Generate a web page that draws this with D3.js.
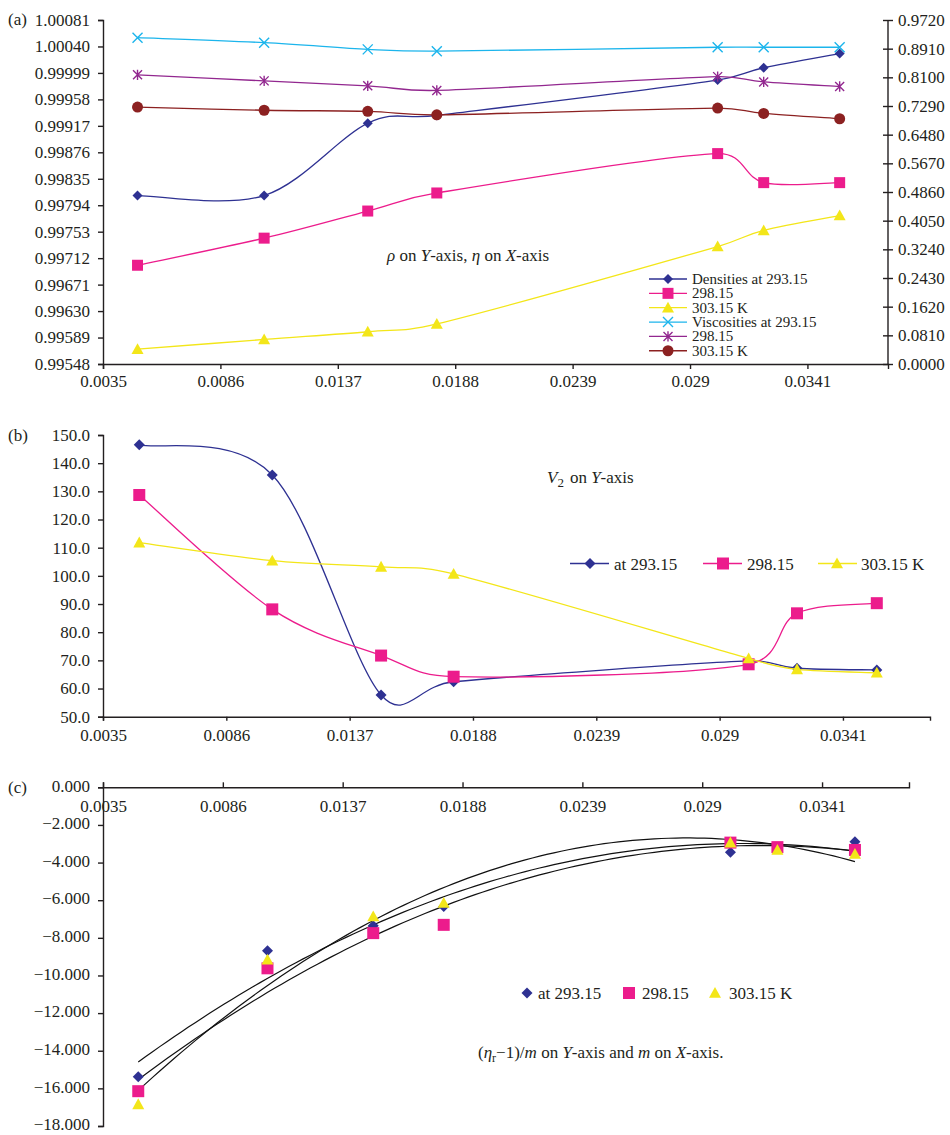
<!DOCTYPE html>
<html><head><meta charset="utf-8">
<script src="https://cdn.jsdelivr.net/npm/d3@7"></script>
<style>
body{margin:0;background:#fff}
text{font-family:"Liberation Serif","Times New Roman",serif;fill:#231f20}
</style>
</head><body><svg id="chart" width="950" height="1135"></svg>
<script>
// ---------- data ----------
const molality = [0.0050, 0.0105, 0.0150, 0.0180, 0.0302, 0.0322, 0.0355];
const xTickValues = [0.0035, 0.0086, 0.0137, 0.0188, 0.0239, 0.0290, 0.0341];
const xTickLabels = ["0.0035", "0.0086", "0.0137", "0.0188", "0.0239", "0.029", "0.0341"];

const densityTicks = [0.99548, 0.99589, 0.99630, 0.99671, 0.99712, 0.99753, 0.99794, 0.99835, 0.99876, 0.99917, 0.99958, 0.99999, 1.00040, 1.00081];
const viscosityTicks = [0.0000, 0.0810, 0.1620, 0.2430, 0.3240, 0.4050, 0.4860, 0.5670, 0.6480, 0.7290, 0.8100, 0.8910, 0.9720];
const density293 = [0.99809, 0.99809, 0.99921, 0.99933, 0.99988, 1.00007, 1.00029];
const density298 = [0.99701, 0.99743, 0.99785, 0.99813, 0.99874, 0.99829, 0.99829];
const density303 = [0.99571, 0.99586, 0.99598, 0.99610, 0.99730, 0.99755, 0.99778];
const viscosity293 = [0.922, 0.908, 0.889, 0.884, 0.895, 0.895, 0.895];
const viscosity298 = [0.817, 0.800, 0.786, 0.773, 0.812, 0.797, 0.784];
const viscosity303 = [0.726, 0.717, 0.714, 0.704, 0.723, 0.708, 0.693];

const v2Ticks = [50, 60, 70, 80, 90, 100, 110, 120, 130, 140, 150];
const v2at293 = [146.5, 135.8, 57.7, 62.4, 69.8, 67.2, 66.6];
const v2at298 = [128.7, 88.1, 71.7, 64.2, 68.6, 86.7, 90.3];
const v2at303 = [111.8, 105.4, 103.2, 100.7, 70.7, 66.8, 65.6];

const etaTicks = [0, -2, -4, -6, -8, -10, -12, -14, -16, -18];
const eta293 = [-15.38, -8.68, -7.36, -6.33, -3.45, -3.20, -2.89];
const eta298 = [-16.15, -9.62, -7.75, -7.31, -2.94, -3.18, -3.33];
const eta303 = [-16.85, -9.16, -6.86, -6.15, -2.94, -3.33, -3.54];

const legendA = ["Densities at 293.15", "298.15", "303.15 K", "Viscosities at 293.15", "298.15", "303.15 K"];
const legendB = ["at 293.15", "298.15", "303.15 K"];

// ---------- styles ----------
const C = {navy:"#2e3192", pink:"#ec1c8c", yellow:"#f3e619", cyan:"#1cb5ec", purple:"#92278f", brown:"#8c2121"};
const FS = 17;
const svg = d3.select("#chart");

function markerPath(type, s){
  const h = s/2;
  switch(type){
    case "diamond": return `M0,${-h}L${h},0L0,${h}L${-h},0Z`;
    case "square": return `M${-h},${-h}H${h}V${h}H${-h}Z`;
    case "triangle": return `M0,${-h}L${h},${h*0.8}L${-h},${h*0.8}Z`;
    case "circle": return d3.symbol(d3.symbolCircle, Math.PI*h*h)();
    case "x": return `M${-h},${-h}L${h},${h}M${-h},${h}L${h},${-h}`;
    case "star": return `M${-h},${-h}L${h},${h}M${-h},${h}L${h},${-h}M0,${-h*1.15}V${h*1.15}`;
  }
}
function drawMarker(g, type, x, y, color, s){
  const stroke = (type==="x"||type==="star");
  g.append("path").attr("d", markerPath(type, s)).attr("transform",`translate(${x},${y})`)
    .attr("fill", stroke ? "none" : color).attr("stroke", stroke ? color : "none").attr("stroke-width", stroke ? 1.4 : 0);
}
function styleAxis(g){
  g.attr("font-size", null).attr("font-family", null);
  g.selectAll("text").attr("font-size", FS);
  g.selectAll("path.domain, line").attr("stroke", "#231f20").attr("stroke-width", 1.4);
}
// spreadsheet-style smoothed line: Bezier handles of 1/6 of the neighbour chord, capped at half the segment
function smoothPath(pts){
  const p = d3.path();
  p.moveTo(pts[0][0], pts[0][1]);
  for(let i=0;i<pts.length-1;i++){
    const P0 = pts[Math.max(i-1,0)], P1 = pts[i], P2 = pts[i+1], P3 = pts[Math.min(i+2,pts.length-1)];
    const d12 = Math.hypot(P2[0]-P1[0], P2[1]-P1[1]);
    const handle = (a,b)=>{ let hx=(b[0]-a[0])/6, hy=(b[1]-a[1])/6; const L=Math.hypot(hx,hy); if(L>d12/2){ hx*=d12/2/L; hy*=d12/2/L; } return [hx,hy]; };
    const h1 = handle(P0,P2), h2 = handle(P1,P3);
    p.bezierCurveTo(P1[0]+h1[0], P1[1]+h1[1], P2[0]-h2[0], P2[1]-h2[1], P2[0], P2[1]);
  }
  return p.toString();
}
function series(g, x, y, vals, color, type, size, curve){
  const pts = molality.map((m,i)=>[x(m), y(vals[i])]);
  if(curve){
    g.append("path").attr("d", smoothPath(pts))
      .attr("fill","none").attr("stroke",color).attr("stroke-width",1.3);
  }
  pts.forEach(p=>drawMarker(g, type, p[0], p[1], color, size));
}

// ---------- panel (a) ----------
{
  const x = d3.scaleLinear().domain([0.0035, 0.0376]).range([103, 888]);
  const yL = d3.scaleLinear().domain([0.99548, 1.00081]).range([364, 20]);
  const yR = d3.scaleLinear().domain([0, 0.972]).range([364, 20]);
  const g = svg.append("g");
  g.append("g").attr("transform","translate(0,364)")
    .call(d3.axisBottom(x).tickValues(xTickValues).tickFormat((d,i)=>xTickLabels[i]).tickSize(5).tickPadding(6)).call(styleAxis);
  g.append("g").attr("transform","translate(103,0)")
    .call(d3.axisLeft(yL).tickValues(densityTicks).tickFormat(d3.format(".5f")).tickSize(5).tickPadding(8)).call(styleAxis);
  const r = g.append("g").attr("transform","translate(888,0)")
    .call(d3.axisRight(yR).tickValues(viscosityTicks).tickFormat(d3.format(".4f")).tickSize(5).tickPadding(5)).call(styleAxis);
  r.selectAll(".tick line").attr("x1",-5).attr("x2",5);
  r.select("path.domain").attr("d","M0,20V364");

  series(g, x, yL, density303, C.yellow, "triangle", 12, true);
  series(g, x, yL, density298, C.pink, "square", 11, true);
  series(g, x, yL, density293, C.navy, "diamond", 10, true);
  series(g, x, yR, viscosity303, C.brown, "circle", 11, true);
  series(g, x, yR, viscosity298, C.purple, "star", 9, true);
  series(g, x, yR, viscosity293, C.cyan, "x", 10, true);

  const t = g.append("text").attr("x",387).attr("y",261).attr("font-size",FS);
  t.append("tspan").attr("font-style","italic").text("ρ");
  t.append("tspan").text(" on ");
  t.append("tspan").attr("font-style","italic").text("Y");
  t.append("tspan").text("-axis, ");
  t.append("tspan").attr("font-style","italic").text("η");
  t.append("tspan").text(" on ");
  t.append("tspan").attr("font-style","italic").text("X");
  t.append("tspan").text("-axis");

  const lg = [[C.navy,"diamond",10],[C.pink,"square",11],[C.yellow,"triangle",12],[C.cyan,"x",10],[C.purple,"star",9],[C.brown,"circle",11]];
  lg.forEach((d,i)=>{
    const yy = 279 + i*14.35;
    g.append("line").attr("x1",649).attr("x2",687).attr("y1",yy).attr("y2",yy).attr("stroke",d[0]).attr("stroke-width",1.3);
    drawMarker(g, d[1], 668, yy, d[0], d[2]);
    g.append("text").attr("x",692).attr("y",yy+5).attr("font-size",15).text(legendA[i]);
  });
  g.append("text").attr("x",8).attr("y",25).attr("font-size",FS).text("(a)");
}

// ---------- panel (b) ----------
{
  const x = d3.scaleLinear().domain([0.0035, 0.0377]).range([103, 930]);
  const y = d3.scaleLinear().domain([50, 150]).range([716.7, 435]);
  const g = svg.append("g");
  g.append("g").attr("transform","translate(0,716.7)")
    .call(d3.axisBottom(x).tickValues(xTickValues).tickFormat((d,i)=>xTickLabels[i]).tickSize(4).tickPadding(8)).call(styleAxis);
  g.append("g").attr("transform","translate(103,0)")
    .call(d3.axisLeft(y).tickValues(v2Ticks).tickFormat(d3.format(".1f")).tickSize(5).tickPadding(8)).call(styleAxis);

  series(g, x, y, v2at293, C.navy, "diamond", 11, true);
  series(g, x, y, v2at298, C.pink, "square", 12, true);
  series(g, x, y, v2at303, C.yellow, "triangle", 12, true);

  const t = g.append("text").attr("x",547).attr("y",483).attr("font-size",FS);
  t.append("tspan").attr("font-style","italic").text("V");
  t.append("tspan").attr("font-size",13).attr("dy",4).text("2");
  t.append("tspan").attr("dy",-4).attr("dx",6).text("on ");
  t.append("tspan").attr("font-style","italic").text("Y");
  t.append("tspan").text("-axis");

  const pos = [[570,609,590,614],[703,742,723,747],[818,857,837,861]];
  const mk = [[C.navy,"diamond",11],[C.pink,"square",12],[C.yellow,"triangle",12]];
  pos.forEach((p,i)=>{
    const yy = 563.5;
    g.append("line").attr("x1",p[0]).attr("x2",p[1]).attr("y1",yy).attr("y2",yy).attr("stroke",mk[i][0]).attr("stroke-width",1.3);
    drawMarker(g, mk[i][1], p[2], yy, mk[i][0], mk[i][2]);
    g.append("text").attr("x",p[3]).attr("y",yy+6).attr("font-size",FS).text(legendB[i]);
  });
  g.append("text").attr("x",8).attr("y",441).attr("font-size",FS).text("(b)");
}

// ---------- panel (c) ----------
{
  const x = d3.scaleLinear().domain([0.0035, 0.0378]).range([103, 909]);
  const y = d3.scaleLinear().domain([-18, 0]).range([1126, 787.3]);
  const g = svg.append("g");
  const xa = g.append("g").attr("transform","translate(0,787.3)")
    .call(d3.axisTop(x).tickValues(xTickValues).tickFormat((d,i)=>xTickLabels[i]).tickSize(5)).call(styleAxis);
  xa.selectAll(".tick text").attr("y",12.5).attr("dy","0.71em");
  const ya = g.append("g").attr("transform","translate(103,0)")
    .call(d3.axisLeft(y).tickValues(etaTicks).tickFormat(d3.format(".3f")).tickSize(5).tickPadding(8)).call(styleAxis);
  ya.selectAll(".tick text").attr("dy","0.22em");

  // quadratic least-squares trendlines computed from each series
  function quadFit(xs, ys){
    const n = xs.length, mx = d3.mean(xs);
    const u = xs.map(v=>v-mx);
    const S = k=>d3.sum(u, v=>Math.pow(v,k));
    const T = k=>d3.sum(u, (v,i)=>Math.pow(v,k)*ys[i]);
    const A = [[n,S(1),S(2)],[S(1),S(2),S(3)],[S(2),S(3),S(4)]], b=[T(0),T(1),T(2)];
    for(let i=0;i<3;i++){ for(let j=i+1;j<3;j++){ const f=A[j][i]/A[i][i]; for(let k=i;k<3;k++) A[j][k]-=f*A[i][k]; b[j]-=f*b[i]; } }
    const c=[0,0,0];
    for(let i=2;i>=0;i--){ let s=b[i]; for(let k=i+1;k<3;k++) s-=A[i][k]*c[k]; c[i]=s/A[i][i]; }
    return v=>{const d=v-mx; return c[0]+c[1]*d+c[2]*d*d;};
  }
  [eta293, eta298, eta303].forEach(ys=>{
    const f = quadFit(molality, ys);
    const xs = d3.range(0, 101).map(i=>molality[0] + (molality[6]-molality[0])*i/100);
    g.append("path").attr("d", d3.line()(xs.map(v=>[x(v), y(f(v))])))
      .attr("fill","none").attr("stroke","#111").attr("stroke-width",1.2);
  });
  series(g, x, y, eta293, C.navy, "diamond", 11, false);
  series(g, x, y, eta298, C.pink, "square", 12, false);
  series(g, x, y, eta303, C.yellow, "triangle", 12, false);

  const lp = [[527,538],[629,642],[715,729]];
  const mk = [[C.navy,"diamond",11],[C.pink,"square",12],[C.yellow,"triangle",12]];
  lp.forEach((p,i)=>{
    drawMarker(g, mk[i][1], p[0], 993, mk[i][0], mk[i][2]);
    g.append("text").attr("x",p[1]).attr("y",999).attr("font-size",FS).text(legendB[i]);
  });

  const t = g.append("text").attr("x",478).attr("y",1058).attr("font-size",FS);
  t.append("tspan").text("(");
  t.append("tspan").attr("font-style","italic").text("η");
  t.append("tspan").attr("font-size",12).attr("dy",4).text("r");
  t.append("tspan").attr("dy",-4).text("−1)/");
  t.append("tspan").attr("font-style","italic").text("m");
  t.append("tspan").text(" on ");
  t.append("tspan").attr("font-style","italic").text("Y");
  t.append("tspan").text("-axis and ");
  t.append("tspan").attr("font-style","italic").text("m");
  t.append("tspan").text(" on ");
  t.append("tspan").attr("font-style","italic").text("X");
  t.append("tspan").text("-axis.");
  g.append("text").attr("x",8).attr("y",793).attr("font-size",FS).text("(c)");
}
</script>
</body></html>
